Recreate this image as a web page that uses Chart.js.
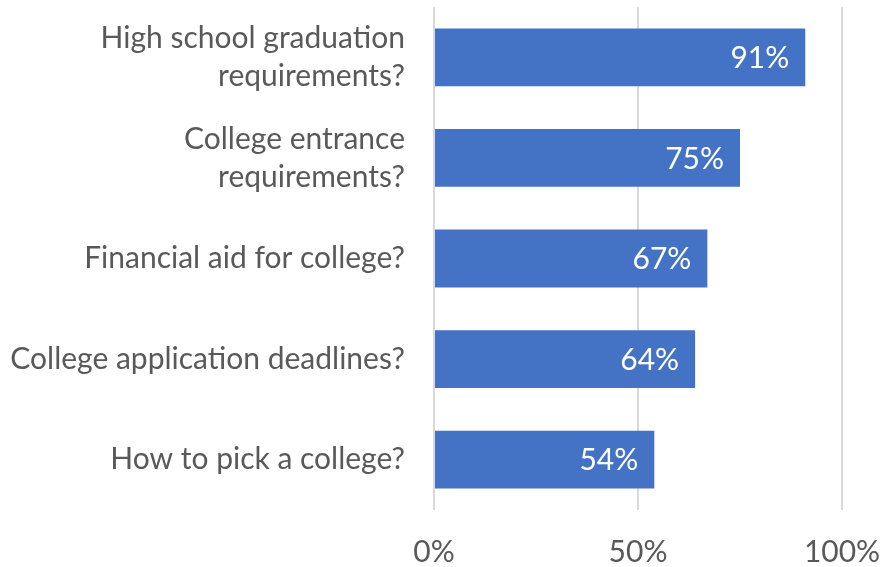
<!DOCTYPE html>
<html>
<head>
<meta charset="utf-8">
<script src="https://cdn.jsdelivr.net/npm/chart.js@4"></script>
<style>
  html, body { margin: 0; padding: 0; background: #ffffff; }
  #wrap { width: 895px; height: 567px; position: relative; }
</style>
</head>
<body>
<div id="wrap"><canvas id="chart"></canvas></div>
<script>
// Survey questions (top to bottom) and share of "yes" answers
const categories = [
  ['High school graduation', 'requirements?'],
  ['College entrance', 'requirements?'],
  'Financial aid for college?',
  'College application deadlines?',
  'How to pick a college?'
];
const values = [0.91, 0.75, 0.67, 0.64, 0.54];
const tickValues = [0, 0.5, 1];

const textColor = '#595959';
const fontFamily = 'Lato, "Open Sans", sans-serif';

const pct = v => Math.round(v * 100) + '%';

// Value labels drawn inside the end of each bar
const barLabels = {
  id: 'barLabels',
  afterDatasetsDraw(chart) {
    const ctx = chart.ctx;
    const meta = chart.getDatasetMeta(0);
    ctx.save();
    ctx.font = '30px ' + fontFamily;
    ctx.fillStyle = '#ffffff';
    ctx.textAlign = 'right';
    ctx.textBaseline = 'middle';
    meta.data.forEach((bar, i) => {
      ctx.fillText(pct(values[i]), bar.x - 16, bar.y + 1);
    });
    ctx.restore();
  }
};

new Chart(document.getElementById('chart'), {
  type: 'bar',
  data: {
    labels: categories,
    datasets: [{
      data: values,
      backgroundColor: '#4472c4',
      borderWidth: 0,
      categoryPercentage: 1,
      barPercentage: 0.575
    }]
  },
  options: {
    indexAxis: 'y',
    responsive: true,
    maintainAspectRatio: false,
    animation: false,
    layout: { padding: { top: 7, right: 53, bottom: 0, left: 0 } },
    plugins: { legend: { display: false }, tooltip: { enabled: false } },
    scales: {
      x: {
        min: 0,
        max: 1,
        afterBuildTicks: axis => { axis.ticks = tickValues.map(v => ({ value: v })); },
        ticks: {
          callback: v => pct(v),
          color: textColor,
          font: { family: fontFamily, size: 30 },
          padding: 24,
          maxRotation: 0
        },
        grid: { color: '#d9d9d9', lineWidth: 2, drawTicks: false },
        border: { display: false },
        afterFit: axis => {
          axis.height = 57;
          axis.paddingLeft = 0;
          axis.paddingRight = 0;
        }
      },
      y: {
        ticks: {
          color: textColor,
          font: { family: fontFamily, size: 30, lineHeight: 1.27 },
          padding: 29
        },
        grid: { display: false, drawTicks: false },
        border: { display: false },
        afterFit: axis => {
          axis.width = 434;
          axis.paddingTop = 0;
          axis.paddingBottom = 0;
        }
      }
    }
  },
  plugins: [barLabels]
});
</script>
</body>
</html>
